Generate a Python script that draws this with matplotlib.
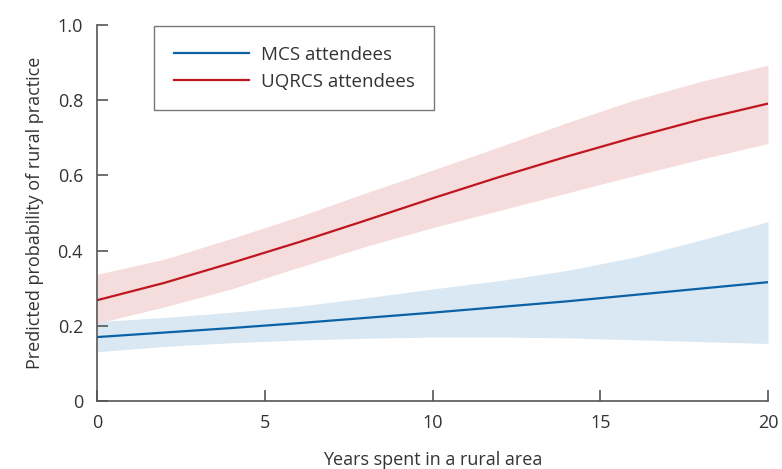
import matplotlib
matplotlib.use("Agg")
import matplotlib.pyplot as plt

years = [0, 2, 4, 6, 8, 10, 12, 14, 16, 18, 20]

mcs_mean = [0.170, 0.182, 0.194, 0.207, 0.221, 0.235, 0.250, 0.265, 0.282, 0.299, 0.316]
mcs_lower = [0.131, 0.145, 0.155, 0.162, 0.167, 0.170, 0.170, 0.168, 0.163, 0.158, 0.153]
mcs_upper = [0.211, 0.222, 0.236, 0.252, 0.274, 0.298, 0.320, 0.347, 0.382, 0.428, 0.477]

uq_mean = [0.268, 0.314, 0.367, 0.422, 0.480, 0.539, 0.596, 0.650, 0.701, 0.749, 0.791]
uq_lower = [0.207, 0.250, 0.298, 0.355, 0.411, 0.461, 0.507, 0.553, 0.599, 0.643, 0.685]
uq_upper = [0.337, 0.377, 0.432, 0.490, 0.553, 0.614, 0.676, 0.740, 0.800, 0.850, 0.893]

series_labels = ["MCS attendees", "UQRCS attendees"]
x_ticks = [0, 5, 10, 15, 20]
y_ticks = [0, 0.2, 0.4, 0.6, 0.8, 1.0]
y_tick_labels = ["0", "0.2", "0.4", "0.6", "0.8", "1.0"]

plt.rcParams['font.family'] = ['Open Sans', 'DejaVu Sans']
text_color = "#333333"
spine_color = "#555555"
blue = "#0b62a6"
red = "#c0161f"
blue_fill = "#d9e8f3"
red_fill = "#f5dcdd"

fig = plt.figure(figsize=(7.82, 4.69), dpi=100)
ax = fig.add_axes([97 / 782, 1 - 401 / 469, (768 - 97) / 782, (401 - 25) / 469])

ax.fill_between(years, mcs_lower, mcs_upper, color=blue_fill, linewidth=0)
ax.fill_between(years, uq_lower, uq_upper, color=red_fill, linewidth=0)
ax.plot(years, mcs_mean, color=blue, linewidth=1.6, label=series_labels[0])
ax.plot(years, uq_mean, color=red, linewidth=1.6, label=series_labels[1])

ax.set_xlim(0, 20)
ax.set_ylim(0, 1.0)
ax.set_xticks(x_ticks)
ax.set_xticklabels([str(v) for v in x_ticks])
ax.set_yticks(y_ticks)
ax.set_yticklabels(y_tick_labels)

for s in ["top", "right"]:
    ax.spines[s].set_visible(False)
for s in ["left", "bottom"]:
    ax.spines[s].set_color(spine_color)
    ax.spines[s].set_linewidth(1.2)

ax.tick_params(axis="both", direction="in", length=8, width=1.2, color=spine_color,
               labelsize=13, labelcolor=text_color)
ax.tick_params(axis="x", pad=9)
ax.tick_params(axis="y", pad=10)

ax.set_xlabel("Years spent in a rural area", fontsize=13, color=text_color, labelpad=14)
ax.set_ylabel("Predicted probability of rural practice", fontsize=13, color=text_color, labelpad=10)

leg = fig.legend(loc="upper left", bbox_to_anchor=(154 / 782, 1 - 26 / 469),
                 borderaxespad=0, frameon=True, fancybox=False, fontsize=13.5,
                 handlelength=4.0, handletextpad=0.65, borderpad=1.05, labelspacing=0.48)
leg.get_frame().set_edgecolor(spine_color)
leg.get_frame().set_linewidth(1.0)
for t in leg.get_texts():
    t.set_color(text_color)

fig.savefig("out.png", dpi=100)
